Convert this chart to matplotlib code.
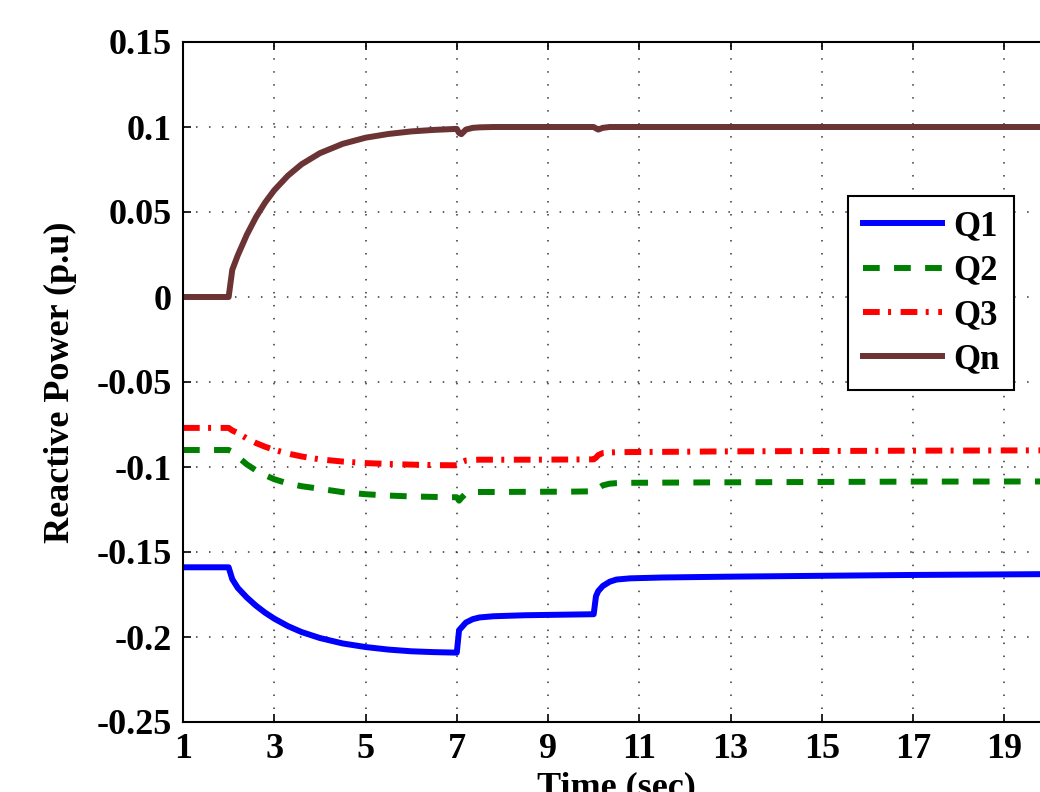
import numpy as np
import matplotlib
matplotlib.use("Agg")
import matplotlib.pyplot as plt

# --- Dados ---
t = [1, 2, 2.08, 2.2, 2.4, 2.6, 2.8, 3, 3.3, 3.6, 4, 4.5, 5, 5.5, 6, 6.5, 7,
     7.05, 7.1, 7.2, 7.35, 7.5, 7.8, 8.5, 9.5, 10, 10.05, 10.1, 10.2, 10.35,
     10.5, 10.8, 11.5, 13, 15, 17, 20]

q1 = [-0.159, -0.159, -0.166, -0.1711, -0.1768, -0.1816, -0.1857, -0.1892,
      -0.1936, -0.1971, -0.2006, -0.2038, -0.2059, -0.2074, -0.2084, -0.2089,
      -0.2092, -0.196, -0.1945, -0.1915, -0.1895, -0.1885, -0.1878, -0.1872,
      -0.1868, -0.1866, -0.176, -0.173, -0.170, -0.1675, -0.1662, -0.1655,
      -0.165, -0.1645, -0.164, -0.1635, -0.163]

q2 = [-0.09, -0.09, -0.091, -0.094, -0.0985, -0.102, -0.1048, -0.1072,
      -0.1097, -0.1113, -0.1128, -0.1148, -0.116, -0.1168, -0.1173, -0.1176,
      -0.1178, -0.1198, -0.1182, -0.1155, -0.1148, -0.1147, -0.1147, -0.1146,
      -0.1145, -0.1143, -0.1135, -0.1125, -0.1108, -0.1098, -0.1095, -0.1093,
      -0.1092, -0.109, -0.1088, -0.1086, -0.1085]

q3 = [-0.077, -0.077, -0.0785, -0.080, -0.0832, -0.0859, -0.0881, -0.0899,
      -0.0921, -0.0938, -0.0955, -0.0968, -0.0977, -0.0982, -0.0986, -0.0989,
      -0.099, -0.0985, -0.0972, -0.0962, -0.0958, -0.0957, -0.0957, -0.0957,
      -0.0956, -0.0955, -0.0945, -0.093, -0.0918, -0.0915, -0.0913, -0.0912,
      -0.0911, -0.0908, -0.0906, -0.0904, -0.0902]

qn = [0.0, 0.0, 0.016, 0.0245, 0.0367, 0.047, 0.0556, 0.0628, 0.0714, 0.0781,
      0.0846, 0.0901, 0.0937, 0.0959, 0.0974, 0.0983, 0.0989, 0.0965, 0.0958,
      0.0985, 0.0995, 0.0998, 0.1, 0.1, 0.1, 0.1, 0.0992, 0.0985, 0.0995, 0.1,
      0.1, 0.1, 0.1, 0.1, 0.1, 0.1, 0.1]

labels = ["Q1", "Q2", "Q3", "Qn"]
xticks = [1, 3, 5, 7, 9, 11, 13, 15, 17, 19]
yticks = [-0.25, -0.2, -0.15, -0.1, -0.05, 0, 0.05, 0.1, 0.15]

# --- Estilo (parecido com MATLAB) ---
plt.rcParams["font.family"] = ["Liberation Serif", "DejaVu Serif"]
plt.rcParams["font.weight"] = "bold"
plt.rcParams["axes.unicode_minus"] = False

W, H = 1040, 792
fig = plt.figure(figsize=(W / 100, H / 100), dpi=100)
# eixo vai além da borda direita (figura original está cortada)
x0, x1 = 183, 1050
y0, y1 = 42, 722
ax = fig.add_axes([x0 / W, 1 - y1 / H, (x1 - x0) / W, (y1 - y0) / H])

lw = 4.3
ax.plot(t, q1, color="#0000ff", lw=lw, label=labels[0])
ax.plot(t, q2, color="#008000", lw=lw, dashes=(2.8, 2.4), label=labels[1])
ax.plot(t, q3, color="#ff0000", lw=lw, dashes=(2.8, 1.4, 0.5, 1.6), label=labels[2])
ax.plot(t, qn, color="#6b3333", lw=lw, label=labels[3])

ax.set_xlim(1, 20)
ax.set_ylim(-0.25, 0.15)
ax.set_xticks(xticks)
ax.set_yticks(yticks)
ax.set_yticklabels([f"{v:g}" for v in yticks])
ax.grid(True, color="#333333", linestyle=(0, (1, 7.5)), linewidth=1.1)
ax.tick_params(direction="in", top=True, right=True, length=6, width=1.2,
               labelsize=26, pad=8)
for sp in ax.spines.values():
    sp.set_linewidth(1.5)

ax.set_xlabel("Time (sec)", fontsize=26, fontweight="bold", labelpad=4)
ax.set_ylabel("Reactive Power (p.u)", fontsize=26, fontweight="bold", labelpad=14)

leg = ax.legend(loc="upper left", bbox_to_anchor=(848 / W, 1 - 196 / H),
                bbox_transform=fig.transFigure, borderaxespad=0,
                prop={"size": 25, "weight": "bold"}, handlelength=2.3,
                handletextpad=0.3, labelspacing=0.32, borderpad=0.42,
                fancybox=False, framealpha=1)
leg.get_frame().set_edgecolor("black")
leg.get_frame().set_linewidth(1.5)

fig.savefig("out.png", dpi=100)
